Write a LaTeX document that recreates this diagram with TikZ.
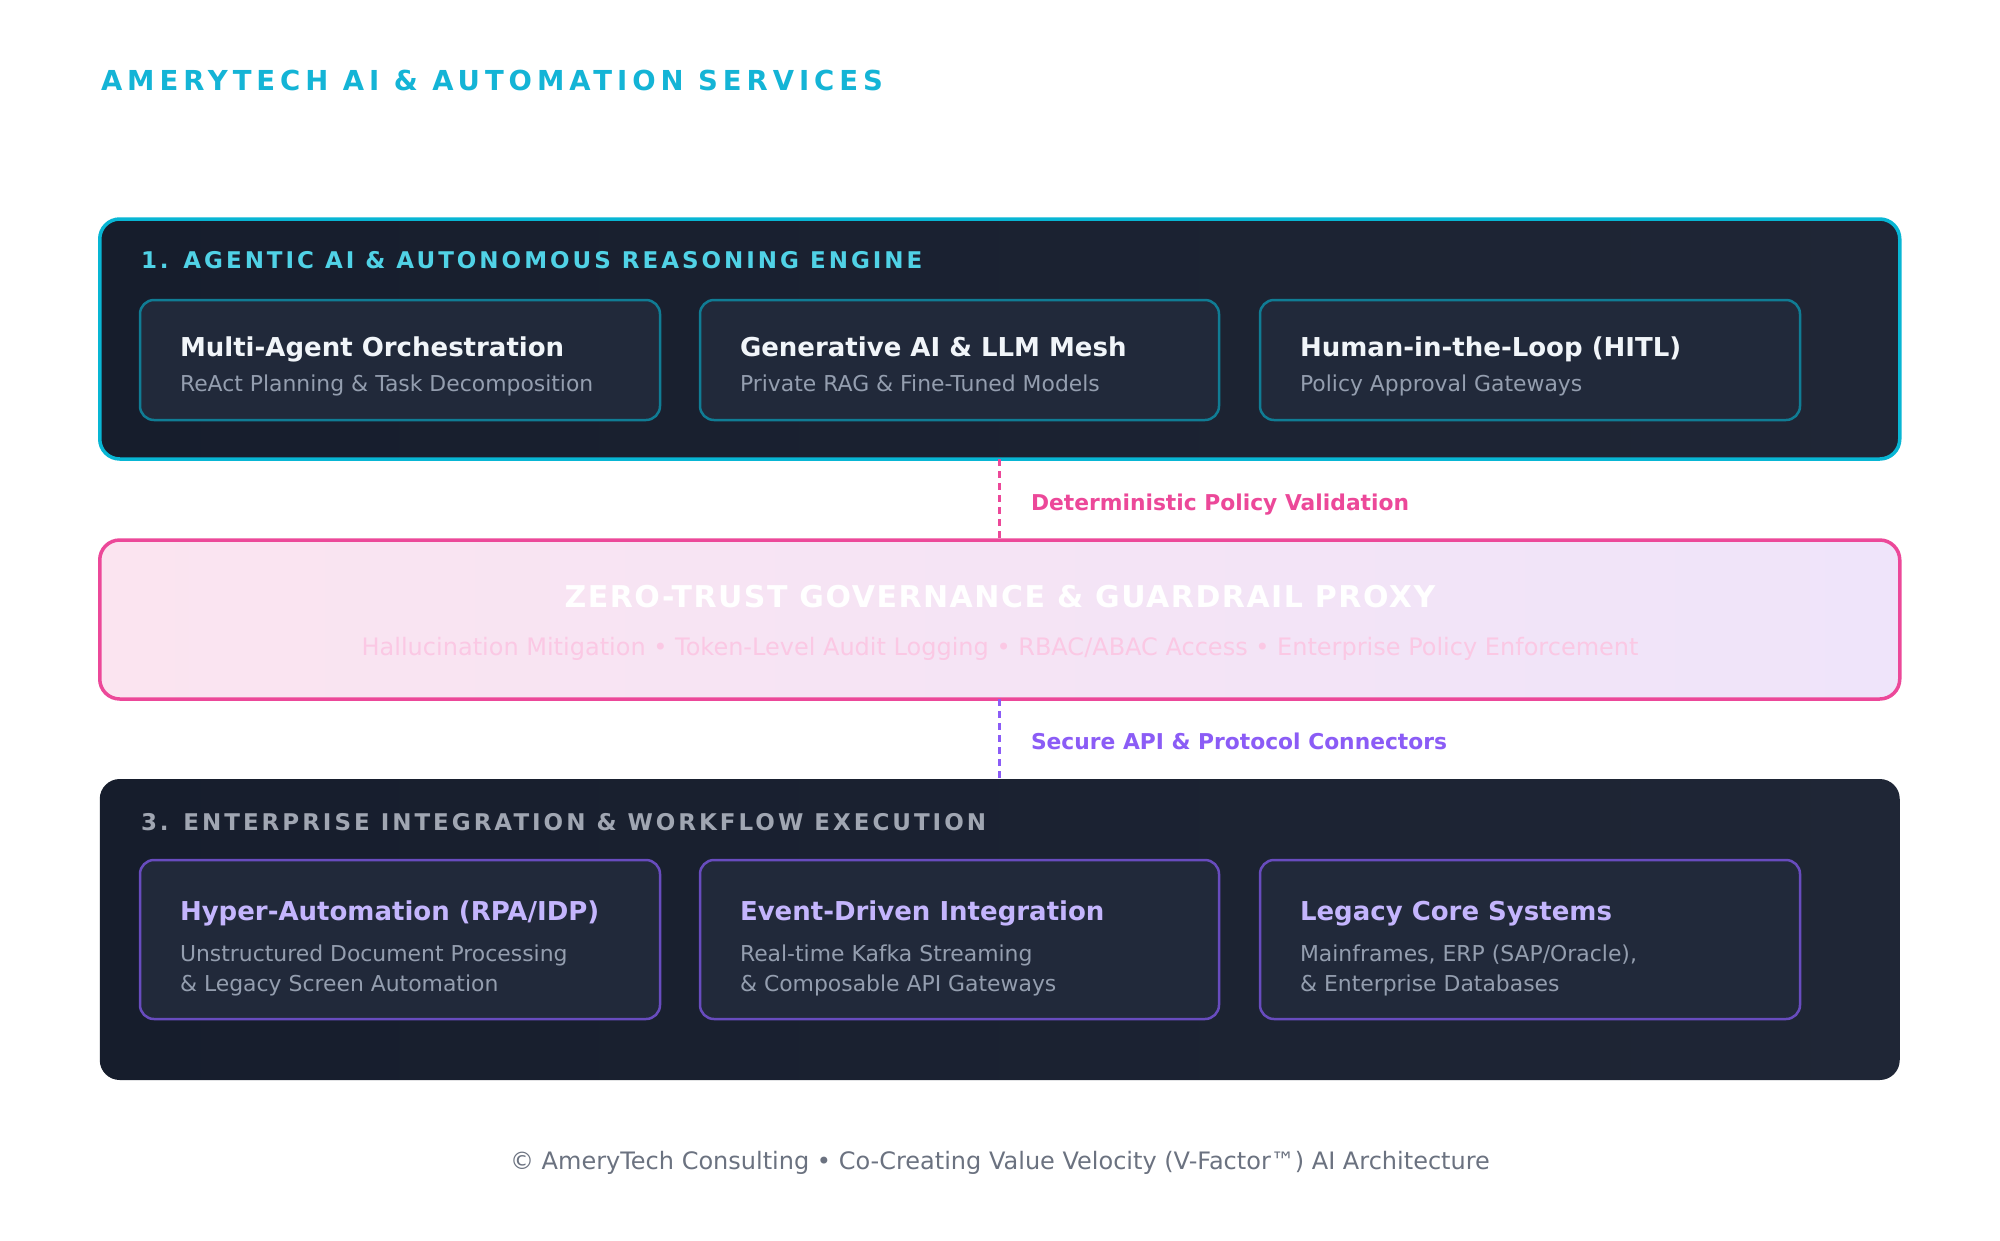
\documentclass[tikz,border=0pt]{standalone}
\usepackage{fontspec}
\setmainfont{DejaVu Sans}
\newfontfamily\spacedtitle[LetterSpace=18]{DejaVu Sans}
\newfontfamily\spacedhead[LetterSpace=13]{DejaVu Sans}
\newfontfamily\spacedzero[LetterSpace=5]{DejaVu Sans}
\definecolor{titlecyan}{RGB}{20,180,214}
\definecolor{headcyan}{RGB}{80,210,230}
\definecolor{bordercyan}{RGB}{8,182,212}
\definecolor{cardcyan}{RGB}{16,124,148}
\definecolor{cardviolet}{RGB}{104,76,190}
\definecolor{darkA}{RGB}{22,29,44}
\definecolor{darkB}{RGB}{31,38,54}
\definecolor{cardfill}{RGB}{33,41,58}
\definecolor{pinkB}{RGB}{236,72,153}
\definecolor{violetB}{RGB}{139,92,246}
\definecolor{pinkfillA}{RGB}{251,228,240}
\definecolor{pinkfillB}{RGB}{239,228,250}
\definecolor{pinksub}{RGB}{251,200,228}
\definecolor{cardwhite}{RGB}{241,245,249}
\definecolor{cardgray}{RGB}{148,158,175}
\definecolor{headgray}{RGB}{160,166,178}
\definecolor{lavender}{RGB}{196,181,253}
\definecolor{footgray}{RGB}{107,114,128}
\tikzset{
  panel/.style={rounded corners=20pt, minimum width=1800pt, inner sep=0pt, outer sep=0pt},
  card/.style={rounded corners=14pt, fill=cardfill, line width=2.5pt, inner sep=0pt, outer sep=0pt},
  txt/.style={anchor=base west, inner sep=0pt, outer sep=0pt},
  ctxt/.style={anchor=base, inner sep=0pt, outer sep=0pt},
  cardtitle/.style={txt, font=\fontsize{26}{31}\selectfont\bfseries},
  cardsub/.style={txt, font=\fontsize{21.9}{30}\selectfont, text=cardgray},
  linklabel/.style={txt, font=\fontsize{21.8}{26}\selectfont\bfseries},
  linkline/.style={line width=3pt, dash pattern=on 7pt off 5pt},
}
\begin{document}
\begin{tikzpicture}[x=1pt,y=-1pt]
\useasboundingbox[fill=white] (0,0) rectangle (2000,1240);

% title
\node[txt, text=titlecyan, font=\fontsize{27.5}{33}\spacedtitle\bfseries] (title) at (101,90) {AMERYTECH AI \& AUTOMATION SERVICES};

% panel 1
\node[panel, minimum height=240pt, left color=darkA, right color=darkB, draw=bordercyan, line width=3.5pt] (box1) at (999.75,339) {};
\node[txt, text=headcyan, font=\fontsize{23}{27}\spacedhead\bfseries] (h1) at (141,268) {1. AGENTIC AI \& AUTONOMOUS REASONING ENGINE};

\node[card, draw=cardcyan, minimum width=520pt, minimum height=120pt] (c11) at (400,360) {};
\node[card, draw=cardcyan, minimum width=519pt, minimum height=120pt] (c12) at (959.5,360) {};
\node[card, draw=cardcyan, minimum width=540pt, minimum height=120pt] (c13) at (1530,360) {};

\node[cardtitle, text=cardwhite] (t11) at (180,356) {Multi-Agent Orchestration};
\node[cardsub] (s11) at (180,391) {ReAct Planning \& Task Decomposition};
\node[cardtitle, text=cardwhite] (t12) at (740,356) {Generative AI \& LLM Mesh};
\node[cardsub] (s12) at (740,391) {Private RAG \& Fine-Tuned Models};
\node[cardtitle, text=cardwhite] (t13) at (1300,356) {Human-in-the-Loop (HITL)};
\node[cardsub] (s13) at (1300,391) {Policy Approval Gateways};

% panel 2
\node[panel, minimum height=159pt, left color=pinkfillA, right color=pinkfillB, draw=pinkB, line width=3.5pt] (box2) at (999.75,619.5) {};
\node[ctxt, text=white, font=\fontsize{30}{35}\spacedzero\bfseries] (z1) at (1000,607) {ZERO-TRUST GOVERNANCE \& GUARDRAIL PROXY};
\node[ctxt, text=pinksub, font=\fontsize{24}{28}\selectfont] (z2) at (1000,655) {Hallucination Mitigation • Token-Level Audit Logging • RBAC/ABAC Access • Enterprise Policy Enforcement};

% panel 3
\node[panel, minimum height=301pt, left color=darkA, right color=darkB] (box3) at (999.75,929.5) {};
\node[txt, text=headgray, font=\fontsize{23}{27}\spacedhead\bfseries] (h3) at (141,830) {3. ENTERPRISE INTEGRATION \& WORKFLOW EXECUTION};

\node[card, draw=cardviolet, minimum width=520pt, minimum height=159pt] (c31) at (400,939.5) {};
\node[card, draw=cardviolet, minimum width=519pt, minimum height=159pt] (c32) at (959.5,939.5) {};
\node[card, draw=cardviolet, minimum width=540pt, minimum height=159pt] (c33) at (1530,939.5) {};

\node[cardtitle, text=lavender] (t31) at (180,920) {Hyper-Automation (RPA/IDP)};
\node[cardsub] (s31a) at (180,961) {Unstructured Document Processing};
\node[cardsub] (s31b) at (180,991) {\& Legacy Screen Automation};
\node[cardtitle, text=lavender] (t32) at (740,920) {Event-Driven Integration};
\node[cardsub] (s32a) at (740,961) {Real-time Kafka Streaming};
\node[cardsub] (s32b) at (740,991) {\& Composable API Gateways};
\node[cardtitle, text=lavender] (t33) at (1300,920) {Legacy Core Systems};
\node[cardsub] (s33a) at (1300,961) {Mainframes, ERP (SAP/Oracle),};
\node[cardsub] (s33b) at (1300,991) {\& Enterprise Databases};

% connectors
\draw[linkline, draw=pinkB] (box1.south) -- (box2.north);
\node[linklabel, text=pinkB] (l1) at (1031,510) {Deterministic Policy Validation};
\draw[linkline, draw=violetB] (box2.south) -- (box3.north);
\node[linklabel, text=violetB] (l2) at (1031,749) {Secure API \& Protocol Connectors};

% footer
\node[ctxt, text=footgray, font=\fontsize{24}{28}\selectfont] (foot) at (1000,1169) {© AmeryTech Consulting • Co-Creating Value Velocity (V-Factor™) AI Architecture};
\end{tikzpicture}
\end{document}
